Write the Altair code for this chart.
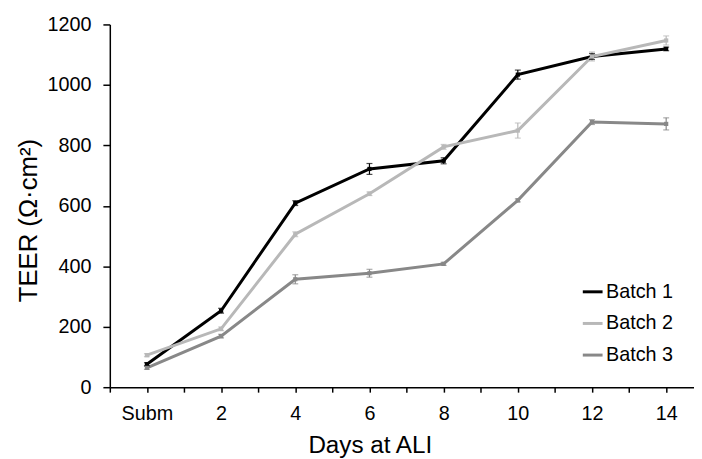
import altair as alt
import pandas as pd

days = [0, 2, 4, 6, 8, 10, 12, 14]
batches = ["Batch 1", "Batch 2", "Batch 3"]
batch1 = [76, 253, 609, 722, 749, 1034, 1094, 1119]
batch2 = [106, 193, 506, 640, 795, 849, 1094, 1147]
batch3 = [64, 169, 357, 377, 408, 618, 877, 871]
err1 = [5, 8, 8, 18, 10, 15, 10, 6]
err2 = [5, 6, 8, 6, 8, 25, 15, 15]
err3 = [5, 6, 15, 13, 5, 5, 8, 20]
colors = ["#000000", "#b8b8b8", "#888888"]
x_ticks = list(range(-1, 15))
y_ticks = [0, 200, 400, 600, 800, 1000, 1200]

rows = []
for name, vals, errs in zip(batches, [batch1, batch2, batch3], [err1, err2, err3]):
    for d, v, e in zip(days, vals, errs):
        rows.append({"day": d, "batch": name, "teer": v, "lo": v - e, "hi": v + e})
df = pd.DataFrame(rows)

FONT = "Liberation Sans"

x = alt.X(
    "day:Q",
    scale=alt.Scale(domain=[-1, 14.75], nice=False, zero=False),
    axis=alt.Axis(
        values=x_ticks,
        tickCount=40,
        format="d",
        labelExpr="datum.value == 0 ? 'Subm' : ((datum.value > 0 && datum.value % 2 == 0) ? datum.label : '')",
        labelOverlap=False,
        labelFlush=False,
        grid=False,
        tickSize=5,
        tickWidth=1.5,
        tickColor="#000000",
        domainColor="#000000",
        domainWidth=1.5,
        labelPadding=12,
        labelFontSize=20,
        labelFont=FONT,
        labelColor="#000000",
        title="Days at ALI",
        titleFont=FONT,
        titleFontSize=24.5,
        titleFontWeight="normal",
        titleColor="#000000",
        titleX=263,
        titleY=66,
        titleBaseline="alphabetic",
        titleAlign="center",
    ),
)
y_scale = alt.Scale(domain=[0, 1200], nice=False, zero=True)
y = alt.Y(
    "teer:Q",
    scale=y_scale,
    axis=alt.Axis(
        values=y_ticks,
        tickCount=20,
        format="d",
        grid=False,
        tickSize=7,
        tickWidth=1.5,
        tickColor="#000000",
        domainColor="#000000",
        domainWidth=1.5,
        labelPadding=12,
        labelFontSize=20,
        labelFont=FONT,
        labelColor="#000000",
        title="TEER (Ω·cm²)",
        titleFont=FONT,
        titleFontSize=26,
        titleFontWeight="normal",
        titleColor="#000000",
        titleX=-82,
        titleY=198,
        titleBaseline="middle",
        titleAlign="center",
        titleAngle=-90,
    ),
)
color = alt.Color(
    "batch:N",
    scale=alt.Scale(domain=batches, range=colors),
    legend=alt.Legend(
        title=None,
        orient="none",
        legendX=477,
        legendY=259,
        symbolType="stroke",
        symbolSize=400,
        symbolStrokeWidth=3,
        labelFontSize=20,
        labelFont=FONT,
        labelColor="#000000",
        labelOffset=2,
        rowPadding=10,
        padding=0,
    ),
)

base = alt.Chart(df)
nolegend = alt.Color("batch:N", scale=alt.Scale(domain=batches, range=colors), legend=None)
lines = base.mark_line(strokeWidth=3).encode(x=x, y=y, color=color, detail="batch:N")
points = base.mark_point(shape="square", filled=True, size=18, opacity=1).encode(
    x="day:Q", y="teer:Q", color=nolegend,
)
bars = base.mark_rule(strokeWidth=1.2).encode(
    x="day:Q", y="lo:Q", y2="hi:Q", color=nolegend,
)
caps_hi = base.mark_tick(orient="horizontal", size=6, thickness=1.2).encode(
    x="day:Q", y="hi:Q", color=nolegend,
)
caps_lo = base.mark_tick(orient="horizontal", size=6, thickness=1.2).encode(
    x="day:Q", y="lo:Q", color=nolegend,
)

chart = (
    alt.layer(lines, bars, caps_hi, caps_lo, points)
    .properties(
        width=591,
        height=367,
        autosize=alt.AutoSizeParams(type="none"),
        padding={"left": 103, "top": 14, "right": 0, "bottom": 70},
        background="#ffffff",
    )
    .configure_view(stroke=None)
)

chart.save("out.html", embed_options={"renderer": "svg", "actions": False})
